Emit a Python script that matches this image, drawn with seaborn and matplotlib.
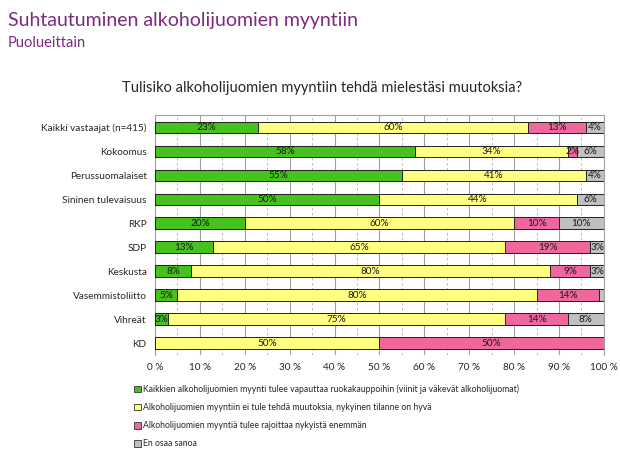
import matplotlib
matplotlib.use("Agg")
from matplotlib import pyplot as plt
from matplotlib.patches import Patch
from matplotlib.ticker import MultipleLocator, FuncFormatter
import seaborn as sns
import pandas as pd

# data, values in percent
groups = ["Kaikki vastaajat (n=415)", "Kokoomus", "Perussuomalaiset",
          "Sininen tulevaisuus", "RKP", "SDP", "Keskusta",
          "Vasemmistoliitto", "Vihreät", "KD"]
vapauttaa = [23, 58, 55, 50, 20, 13, 8, 5, 3, 0]
ei_muutoksia = [60, 34, 41, 44, 60, 65, 80, 80, 75, 50]
rajoittaa = [13, 2, 0, 0, 10, 19, 9, 14, 14, 50]
en_osaa = [4, 6, 4, 6, 10, 3, 3, 1, 8, 0]

series_names = [
    "Kaikkien alkoholijuomien myynti tulee vapauttaa ruokakauppoihin (viinit ja väkevät alkoholijuomat)",
    "Alkoholijuomien myyntiin ei tule tehdä muutoksia, nykyinen tilanne on hyvä",
    "Alkoholijuomien myyntiä tulee rajoittaa nykyistä enemmän",
    "En osaa sanoa",
]
colors = ["#45C21C", "#FFFF80", "#F0679E", "#C0C0C0"]

df = pd.DataFrame({"group": groups, "s0": vapauttaa, "s1": ei_muutoksia,
                   "s2": rajoittaa, "s3": en_osaa})
cols = ["s0", "s1", "s2", "s3"]
cum = df[cols].cumsum(axis=1)
cum["group"] = df.group

sns.set_style("white")
plt.rcParams["font.family"] = ["Lato", "DejaVu Sans"]

fig = plt.figure(figsize=(6.2, 4.5), dpi=100)
ax = fig.add_axes([0.25, 0.211, 0.724, 0.533])

# stacked bars: draw cumulative totals from the back to the front
for i in reversed(range(4)):
    sns.barplot(data=cum, x=cols[i], y="group",
                orient="h", color=colors[i], saturation=1, width=0.47,
                edgecolor="#222222", linewidth=0.7, ax=ax, zorder=3)

# segment labels
for i in range(4):
    for j, v in enumerate(df[cols[i]]):
        if v >= 2:
            xc = cum[cols[i]][j] - v / 2
            ax.text(xc, j, f"{v}%", ha="center", va="center",
                    fontsize=7.2, color="#1a1a1a", zorder=4)

ax.set_xlim(0, 100)
ax.set_ylim(9.5, -0.5)
ax.xaxis.set_major_locator(MultipleLocator(10))
ax.xaxis.set_minor_locator(MultipleLocator(5))
ax.xaxis.set_major_formatter(FuncFormatter(lambda v, p: f"{v:.0f} %"))
ax.grid(axis="x", which="major", color="#a0a0a0", linewidth=0.8, zorder=0)
ax.grid(axis="x", which="minor", color="#b0b0b0", linewidth=0.6,
        linestyle=(0, (3, 3)), zorder=0)
ax.set_xlabel("")
ax.set_ylabel("")
ax.tick_params(axis="both", labelsize=7.2, length=0, pad=6)
for side in ["top", "right", "left"]:
    ax.spines[side].set_color("#a0a0a0")
    ax.spines[side].set_linewidth(0.8)
ax.spines["bottom"].set_visible(False)

handles = [Patch(facecolor=c, edgecolor="#333333", linewidth=0.6) for c in colors]
fig.legend(handles, series_names, loc="upper left", bbox_to_anchor=(0.21, 0.153),
           frameon=False, fontsize=6.2, handlelength=0.8, handleheight=0.8,
           handletextpad=0.3, labelspacing=1.05, borderaxespad=0)

fig.text(0.013, 0.955, "Suhtautuminen alkoholijuomien myyntiin", color="#7D2A80",
         fontsize=14, va="center")
fig.text(0.013, 0.905, "Puolueittain", color="#7D2A80", fontsize=10.5, va="center")
fig.text(0.52, 0.805, "Tulisiko alkoholijuomien myyntiin tehdä mielestäsi muutoksia?",
         ha="center", va="center", fontsize=10.5)

fig.savefig("out.png", dpi=100)
